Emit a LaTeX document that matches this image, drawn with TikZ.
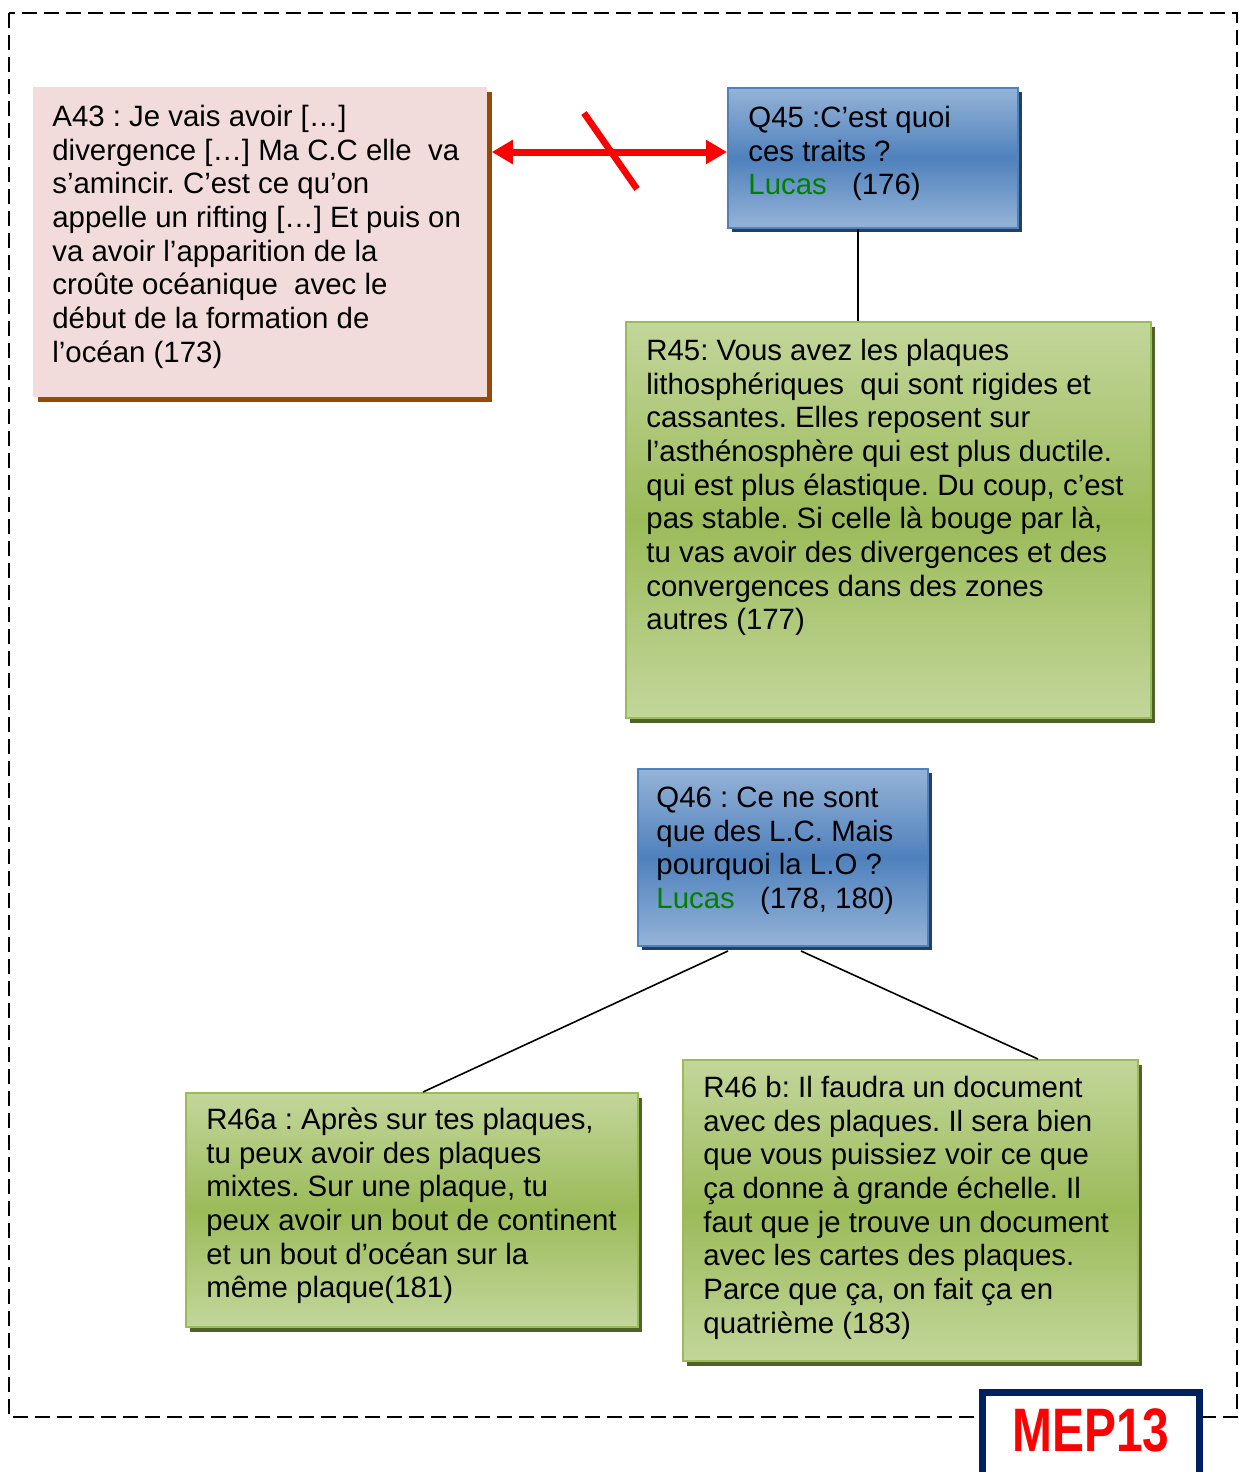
\documentclass[tikz,border=0pt]{standalone}
\usepackage{fontspec}
\setmainfont{Liberation Sans}
\usetikzlibrary{shadows,arrows.meta,calc}
\definecolor{pinkfill}{HTML}{F2DCDB}
\definecolor{brownsh}{HTML}{984807}
\definecolor{bluelight}{HTML}{95B3D7}
\definecolor{bluedark}{HTML}{4F81BD}
\definecolor{blueborder}{HTML}{4F81BD}
\definecolor{navysh}{HTML}{243F60}
\definecolor{greenlight}{HTML}{C3D69B}
\definecolor{greendark}{HTML}{9BBB59}
\definecolor{greenborder}{HTML}{9BBB59}
\definecolor{greensh}{HTML}{4F6228}
\definecolor{lucasgreen}{HTML}{008000}
\definecolor{mepnavy}{HTML}{002060}
\newcommand{\bodyfont}{\fontsize{14.7}{16.85}\selectfont\frenchspacing}
\newcommand{\lucasname}{\textcolor{lucasgreen}{Lucas}}
\tikzset{
  boxbase/.style={rectangle, inner sep=0pt, anchor=north west},
  pinkbox/.style={boxbase, fill=pinkfill,
    drop shadow={shadow xshift=2.5pt, shadow yshift=-2.5pt, fill=brownsh, opacity=1}},
  bluebox/.style={boxbase, draw=blueborder, line width=1pt,
    top color=bluelight, bottom color=bluelight, middle color=bluedark,
    drop shadow={shadow xshift=2pt, shadow yshift=-2pt, fill=navysh, opacity=1}},
  greenbox/.style={boxbase, draw=greenborder, line width=1pt,
    top color=greenlight, bottom color=greenlight, middle color=greendark,
    drop shadow={shadow xshift=2pt, shadow yshift=-2.5pt, fill=greensh, opacity=1}},
  txt/.style={anchor=north west, inner sep=0pt, align=left, font=\bodyfont},
  link/.style={draw=black, line width=0.8pt},
  redarr/.style={draw=red, line width=3.5pt,
    {Triangle[length=10.5pt,width=11.5pt]}-{Triangle[length=10.5pt,width=11.5pt]}},
  crossmark/.style={draw=red, line width=3.3pt},
  frame/.style={draw=black, line width=1pt, dash pattern=on 7.5pt off 3.5pt},
  mepbox/.style={draw=mepnavy, fill=white, line width=3.5pt},
}
\begin{document}
\begin{tikzpicture}[x=0.5pt,y=-0.5pt]
\useasboundingbox (0,0) rectangle (1238,1472);
\clip (0,0) rectangle (1238,1472);
\fill[white] (0,0) rectangle (1238,1472);

% dashed frame
\draw[frame] (9,13) rectangle (1237,1417);

% boxes
\node[pinkbox, minimum width=227pt, minimum height=155pt] (A43) at (33,87) {};
\node[bluebox, minimum width=145pt, minimum height=70pt] (Q45) at (727,87) {};
\node[greenbox, minimum width=262.5pt, minimum height=198pt] (R45) at (625,321) {};
\node[bluebox, minimum width=145pt, minimum height=88.5pt] (Q46) at (637,768) {};
\node[greenbox, minimum width=226pt, minimum height=117pt] (R46a) at (185,1092) {};
\node[greenbox, minimum width=227.5pt, minimum height=150.5pt] (R46b) at (682,1059) {};

% texts
\node[txt] (tA43) at (52,102.4) {\strut A43 : Je vais avoir […]\\
divergence […] Ma C.C elle~ va\\
s’amincir. C’est ce qu’on\\
appelle un rifting […] Et puis on\\
va avoir l’apparition de la\\
croûte océanique~ avec le\\
début de la formation de\\
l’océan (173)};

\node[txt] (tQ45) at (748,103.4) {\strut Q45 :C’est quoi\\
ces traits ?\\
\lucasname\hspace{8.5pt} (176)};

\node[txt] (tR45) at (646,336.4) {\strut R45: Vous avez les plaques\\
lithosphériques~ qui sont rigides et\\
cassantes. Elles reposent sur\\
l’asthénosphère qui est plus ductile.\\
qui est plus élastique. Du coup, c’est\\
pas stable. Si celle là bouge par là,\\
tu vas avoir des divergences et des\\
convergences dans des zones\\
autres (177)};

\node[txt] (tQ46) at (656,783.4) {\strut Q46 : Ce ne sont\\
que des L.C. Mais\\
pourquoi la L.O ?\\
\lucasname\hspace{8.5pt} (178, 180)};

\node[txt] (tR46a) at (206,1105.4) {\strut R46a : Après sur tes plaques,\\
tu peux avoir des plaques\\
mixtes. Sur une plaque, tu\\
peux avoir un bout de continent\\
et un bout d’océan sur la\\
même plaque(181)};

\node[txt] (tR46b) at (703,1073.4) {\strut R46 b: Il faudra un document\\
avec des plaques. Il sera bien\\
que vous puissiez voir ce que\\
ça donne à grande échelle. Il\\
faut que je trouve un document\\
avec les cartes des plaques.\\
Parce que ça, on fait ça en\\
quatrième (183)};

% connectors
\coordinate (qa) at ([yshift=3pt]Q45.west);
\draw[redarr] ($(A43.east |- qa)+(4,0)$) -- (qa);
\draw[crossmark] (584,113) -- (637,189);

\coordinate (qb) at ([xshift=-7.5pt]Q45.south);
\draw[link] (qb) -- (qb |- R45.north);
\draw[link] ([xshift=-27.5pt,yshift=-2pt]Q46.south) -- ([xshift=5.5pt]R46a.north);
\draw[link] ([xshift=9pt,yshift=-2pt]Q46.south) -- ([xshift=63.75pt]R46b.north);

% MEP13 label
\draw[mepbox] (982.5,1520) -- (982.5,1392.5) -- (1199.5,1392.5) -- (1199.5,1520);
\node[anchor=base, inner sep=0pt, text=red, font=\fontsize{30.7}{36}\selectfont\bfseries] (mep) at (1091,1451) {\scalebox{0.78}[1]{MEP13}};
\end{tikzpicture}
\end{document}
